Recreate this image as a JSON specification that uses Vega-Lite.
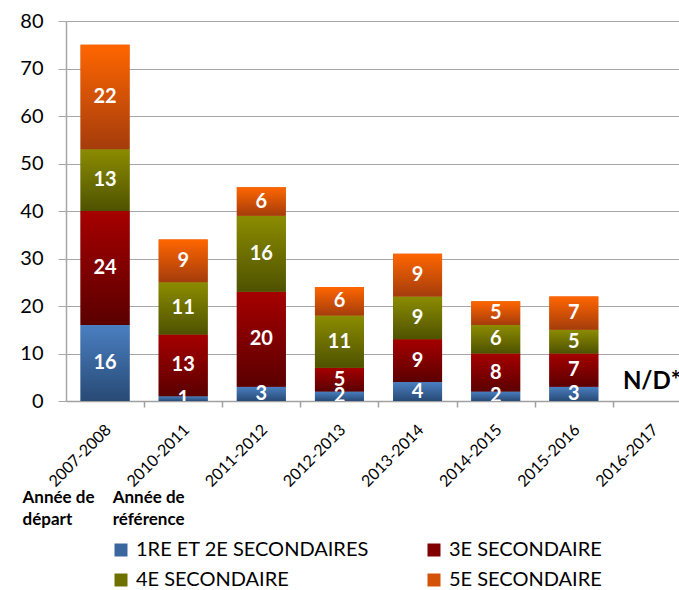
{
  "$schema": "https://vega.github.io/schema/vega-lite/v6.json",
  "autosize": "none",
  "padding": {"left": 66, "top": 21, "right": 0, "bottom": 189},
  "width": 613,
  "height": 380,
  "config": {
    "font": "Lato",
    "view": {"stroke": null},
    "axis": {"labelColor": "#000000", "titleColor": "#000000"},
    "legend": {"labelColor": "#000000"}
  },
  "data": {
    "values": [
      {"year": "2007-2008", "series": "1RE ET 2E SECONDAIRES", "value": 16},
      {"year": "2007-2008", "series": "3E SECONDAIRE", "value": 24},
      {"year": "2007-2008", "series": "4E SECONDAIRE", "value": 13},
      {"year": "2007-2008", "series": "5E SECONDAIRE", "value": 22},
      {"year": "2010-2011", "series": "1RE ET 2E SECONDAIRES", "value": 1},
      {"year": "2010-2011", "series": "3E SECONDAIRE", "value": 13},
      {"year": "2010-2011", "series": "4E SECONDAIRE", "value": 11},
      {"year": "2010-2011", "series": "5E SECONDAIRE", "value": 9},
      {"year": "2011-2012", "series": "1RE ET 2E SECONDAIRES", "value": 3},
      {"year": "2011-2012", "series": "3E SECONDAIRE", "value": 20},
      {"year": "2011-2012", "series": "4E SECONDAIRE", "value": 16},
      {"year": "2011-2012", "series": "5E SECONDAIRE", "value": 6},
      {"year": "2012-2013", "series": "1RE ET 2E SECONDAIRES", "value": 2},
      {"year": "2012-2013", "series": "3E SECONDAIRE", "value": 5},
      {"year": "2012-2013", "series": "4E SECONDAIRE", "value": 11},
      {"year": "2012-2013", "series": "5E SECONDAIRE", "value": 6},
      {"year": "2013-2014", "series": "1RE ET 2E SECONDAIRES", "value": 4},
      {"year": "2013-2014", "series": "3E SECONDAIRE", "value": 9},
      {"year": "2013-2014", "series": "4E SECONDAIRE", "value": 9},
      {"year": "2013-2014", "series": "5E SECONDAIRE", "value": 9},
      {"year": "2014-2015", "series": "1RE ET 2E SECONDAIRES", "value": 2},
      {"year": "2014-2015", "series": "3E SECONDAIRE", "value": 8},
      {"year": "2014-2015", "series": "4E SECONDAIRE", "value": 6},
      {"year": "2014-2015", "series": "5E SECONDAIRE", "value": 5},
      {"year": "2015-2016", "series": "1RE ET 2E SECONDAIRES", "value": 3},
      {"year": "2015-2016", "series": "3E SECONDAIRE", "value": 7},
      {"year": "2015-2016", "series": "4E SECONDAIRE", "value": 5},
      {"year": "2015-2016", "series": "5E SECONDAIRE", "value": 7}
    ]
  },
  "layer": [
    {
      "layer": [
        {
          "mark": {"type": "bar"},
          "encoding": {
            "x": {
              "field": "year", "type": "nominal",
              "scale": {"domain": ["2007-2008","2010-2011","2011-2012","2012-2013","2013-2014","2014-2015","2015-2016","2016-2017"], "range": [0, 625], "paddingInner": 0.373, "paddingOuter": 0.1865},
              "axis": {"title": null, "labelAngle": -45, "labelAlign": "right", "labelBaseline": "middle", "labelFontSize": 16, "labelPadding": 20, "labelOffset": -36, "tickSize": 6, "tickOffset": 39, "tickColor": "#a0a0a0", "domainColor": "#a0a0a0", "domainWidth": 1.5, "tickWidth": 1.5, "grid": false}
            },
            "y": {
              "field": "value", "type": "quantitative", "stack": "zero",
              "scale": {"domain": [0, 80], "nice": false},
              "axis": {"title": null, "values": [0,10,20,30,40,50,60,70,80], "labelFontSize": 20, "tickSize": 8, "labelPadding": 15, "grid": true, "gridColor": "#a6a6a6", "gridWidth": 1.2, "tickColor": "#a6a6a6", "domainColor": "#a6a6a6", "domainWidth": 1.5}
            },
            "color": {
              "field": "series", "type": "nominal",
              "scale": {"domain": ["1RE ET 2E SECONDAIRES","3E SECONDAIRE","4E SECONDAIRE","5E SECONDAIRE"], "range": ["#3a679e","#800000","#6e7000","#d45208"]},
              "legend": {
                "orient": "none", "direction": "horizontal", "legendX": 45, "legendY": 519, "columns": 2, "title": null,
                "symbolType": "square", "symbolSize": 169, "symbolStrokeWidth": 0,
                "labelFontSize": 20, "labelOffset": 5, "rowPadding": 10, "columnPadding": 55, "labelLimit": 400,
                "encode": {
                  "symbols": {
                    "update": {
                      "fill": [
                        {"test": "datum.value === '1RE ET 2E SECONDAIRES'", "value": {"gradient": "linear", "x1": 0, "y1": 0, "x2": 0, "y2": 1, "stops": [{"offset": 0, "color": "#4a7fc1"}, {"offset": 1, "color": "#284a75"}]}},
                        {"test": "datum.value === '3E SECONDAIRE'", "value": {"gradient": "linear", "x1": 0, "y1": 0, "x2": 0, "y2": 1, "stops": [{"offset": 0, "color": "#a60000"}, {"offset": 1, "color": "#5a0000"}]}},
                        {"test": "datum.value === '4E SECONDAIRE'", "value": {"gradient": "linear", "x1": 0, "y1": 0, "x2": 0, "y2": 1, "stops": [{"offset": 0, "color": "#8c8c00"}, {"offset": 1, "color": "#4e5200"}]}},
                        {"value": {"gradient": "linear", "x1": 0, "y1": 0, "x2": 0, "y2": 1, "stops": [{"offset": 0, "color": "#ff6600"}, {"offset": 1, "color": "#a43c0c"}]}}
                      ]
                    }
                  }
                }
              }
            },
            "order": {"field": "series", "sort": "ascending"}
          }
        },
        {
          "mark": {"type": "bar"},
          "encoding": {
            "x": {"field": "year", "type": "nominal"},
            "y": {"field": "value", "type": "quantitative", "stack": "zero"},
            "detail": {"field": "series", "type": "nominal"},
            "order": {"field": "series", "sort": "ascending"},
            "color": {
              "condition": [
                {"test": "datum.series === '1RE ET 2E SECONDAIRES'", "value": {"gradient": "linear", "x1": 0, "y1": 0, "x2": 0, "y2": 1, "stops": [{"offset": 0, "color": "#4a7fc1"}, {"offset": 1, "color": "#284a75"}]}},
                {"test": "datum.series === '3E SECONDAIRE'", "value": {"gradient": "linear", "x1": 0, "y1": 0, "x2": 0, "y2": 1, "stops": [{"offset": 0, "color": "#a60000"}, {"offset": 1, "color": "#5a0000"}]}},
                {"test": "datum.series === '4E SECONDAIRE'", "value": {"gradient": "linear", "x1": 0, "y1": 0, "x2": 0, "y2": 1, "stops": [{"offset": 0, "color": "#8c8c00"}, {"offset": 1, "color": "#4e5200"}]}}
              ],
              "value": {"gradient": "linear", "x1": 0, "y1": 0, "x2": 0, "y2": 1, "stops": [{"offset": 0, "color": "#ff6600"}, {"offset": 1, "color": "#a43c0c"}]}
            }
          }
        },
        {
          "mark": {"type": "text", "color": "#ffffff", "fontWeight": "bold", "fontSize": 20, "baseline": "middle", "align": "center", "clip": true},
          "encoding": {
            "x": {"field": "year", "type": "nominal"},
            "y": {"field": "value", "type": "quantitative", "stack": "zero", "bandPosition": 0.5},
            "detail": {"field": "series", "type": "nominal"},
            "order": {"field": "series", "sort": "ascending"},
            "text": {"field": "value", "type": "quantitative"}
          }
        }
      ]
    },
    {
      "data": {"values": [{"year": "2016-2017", "pos": 4.0, "label": "N/D*"}]},
      "mark": {"type": "text", "fontWeight": "bold", "fontSize": 24, "color": "#000000", "align": "center", "baseline": "middle"},
      "encoding": {
        "x": {
          "field": "year", "type": "nominal",
          "scale": {"domain": ["2007-2008","2010-2011","2011-2012","2012-2013","2013-2014","2014-2015","2015-2016","2016-2017"], "range": [0, 625], "paddingInner": 0.373, "paddingOuter": 0.1865},
          "axis": {
            "title": null, "orient": "bottom", "offset": 88, "domain": false, "ticks": false, "tickSize": 0, "grid": false,
            "labelAngle": 0, "labelAlign": "left", "labelBaseline": "top", "labelPadding": 0,
            "labelFontSize": 17, "labelFontWeight": "bold", "labelLineHeight": 22,
            "labelOffset": {"condition": {"test": "datum.value === '2007-2008'", "value": -83}, "value": -71},
            "labelExpr": "datum.value === '2007-2008' ? ['Année de', 'départ'] : datum.value === '2010-2011' ? ['Année de', 'référence'] : ''"
          }
        },
        "y": {"field": "pos", "type": "quantitative"},
        "text": {"field": "label", "type": "nominal"}
      }
    }
  ],
  "resolve": {"scale": {"x": "independent"}}
}
